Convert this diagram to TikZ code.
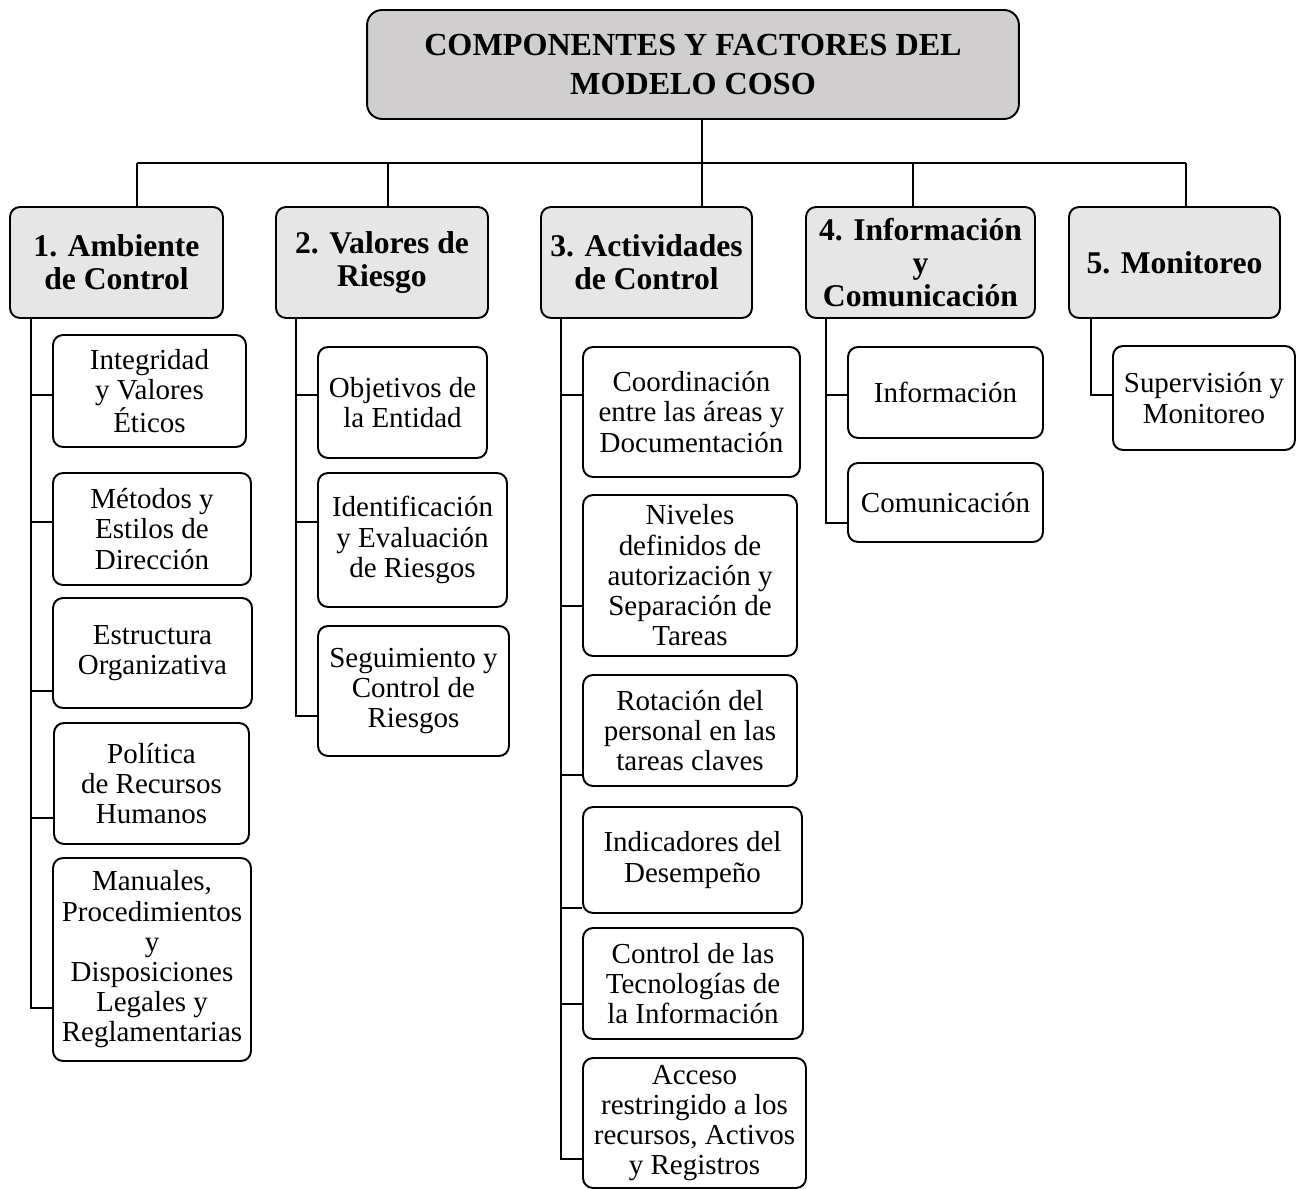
\documentclass[tikz,border=0pt]{standalone}
\usepackage{fontspec}
\setmainfont{Liberation Serif}
\definecolor{cosogris}{RGB}{208,206,206}
\definecolor{cosoclaro}{RGB}{231,230,230}
\tikzset{
  caja/.style={draw, line width=1.1pt, rounded corners=0.2cm, align=center, inner sep=2pt, font=\fontsize{16.5}{17.2}\selectfont},
  cabecera/.style={caja, fill=cosogris, rounded corners=0.3cm, font=\bfseries\fontsize{18.3}{21.8}\selectfont},
  componente/.style={caja, fill=cosoclaro, font=\bfseries\fontsize{18}{18.8}\selectfont},
  rama/.style={line width=1.1pt}
}

\begin{document}
\begin{tikzpicture}[x=0.02cm, y=-0.02cm]
        \useasboundingbox (0,0) rectangle (1303,1189);
        % titulo
        \node[cabecera, minimum width=13.04cm, minimum height=2.18cm] (coso) at (693,64.5) {COMPONENTES Y FACTORES DEL\\MODELO COSO};
        % componentes
        \node[componente, minimum width=4.26cm, minimum height=2.22cm] (c1) at (116.5,262.5) {1. Ambiente\\de Control};
        \node[componente, minimum width=4.24cm, minimum height=2.22cm] (c2) at (382,262.5) {2. Valores de\\Riesgo};
        \node[componente, minimum width=4.22cm, minimum height=2.22cm] (c3) at (646.5,262.5) {3. Actividades\\de Control};
        \node[componente, minimum width=4.58cm, minimum height=2.22cm] (c4) at (920.5,262.5) {4. Información\\y\\Comunicación};
        \node[componente, minimum width=4.22cm, minimum height=2.22cm] (c5) at (1174.5,262.5) {5. Monitoreo};
        % factores
        \node[caja, minimum width=3.86cm, minimum height=2.24cm] (amb1) at (149.5,391) {Integridad\\y Valores\\Éticos};
        \node[caja, minimum width=3.96cm, minimum height=2.24cm] (amb2) at (152,529) {Métodos y\\Estilos de\\Dirección};
        \node[caja, minimum width=3.98cm, minimum height=2.2cm] (amb3) at (152.5,653) {Estructura\\Organizativa};
        \node[caja, minimum width=3.9cm, minimum height=2.42cm] (amb4) at (151.5,783.5) {Política\\de Recursos\\Humanos};
        \node[caja, minimum width=3.96cm, minimum height=4.06cm] (amb5) at (152,959.5) {Manuales,\\Procedimientos\\y\\Disposiciones\\Legales y\\Reglamentarias};
        \node[caja, minimum width=3.38cm, minimum height=2.22cm] (rie1) at (402.5,402.5) {Objetivos de\\la Entidad};
        \node[caja, minimum width=3.78cm, minimum height=2.68cm] (rie2) at (412.5,540) {Identificación\\y Evaluación\\de Riesgos};
        \node[caja, minimum width=3.82cm, minimum height=2.6cm] (rie3) at (413.5,691) {Seguimiento y\\Control de\\Riesgos};
        \node[caja, minimum width=4.34cm, minimum height=2.6cm] (act1) at (691.5,412) {Coordinación\\entre las áreas y\\Documentación};
        \node[caja, minimum width=4.28cm, minimum height=3.22cm] (act2) at (690,575.5) {Niveles\\definidos de\\autorización y\\Separación de\\Tareas};
        \node[caja, minimum width=4.28cm, minimum height=2.22cm] (act3) at (690,730.5) {Rotación del\\personal en las\\tareas claves};
        \node[caja, minimum width=4.38cm, minimum height=2.12cm] (act4) at (692.5,860) {Indicadores del\\Desempeño};
        \node[caja, minimum width=4.4cm, minimum height=2.22cm] (act5) at (693,983.5) {Control de las\\Tecnologías de\\la Información};
        \node[caja, minimum width=4.46cm, minimum height=2.6cm] (act6) at (694.5,1123) {Acceso\\restringido a los\\recursos, Activos\\y Registros};
        \node[caja, minimum width=3.9cm, minimum height=1.82cm] (inf1) at (945.5,392.5) {Información};
        \node[caja, minimum width=3.9cm, minimum height=1.58cm] (inf2) at (945.5,502.5) {Comunicación};
        \node[caja, minimum width=3.64cm, minimum height=2.08cm] (mon1) at (1204,398) {Supervisión y\\Monitoreo};
        % arbol superior
        \draw[rama] ([xshift=0.18cm]coso.south) -- +(0,45);
        \draw[rama] ([xshift=0.41cm,yshift=0.86cm]c1.north) -- ([xshift=0.23cm,yshift=0.86cm]c5.north);
        \draw[rama] ([xshift=0.41cm]c1.north) -- +(0,-43);
        \draw[rama] ([xshift=0.12cm]c2.north) -- +(0,-43);
        \draw[rama] ([xshift=1.11cm]c3.north) -- +(0,-43);
        \draw[rama] ([xshift=-0.15cm]c4.north) -- +(0,-43);
        \draw[rama] ([xshift=0.23cm]c5.north) -- +(0,-43);
        % ramas de cada componente
        \draw[rama] ([xshift=0.44cm]c1.south west) |- ([yshift=-0.97cm]amb5.west);
        \draw[rama] ([yshift=-0.08cm]amb1.west) -- +(-21,0);
        \draw[rama] ([yshift=0.14cm]amb2.west) -- +(-21,0);
        \draw[rama] ([yshift=-0.76cm]amb3.west) -- +(-21,0);
        \draw[rama] ([yshift=-0.69cm]amb4.west) -- +(-21,0);
        \draw[rama] ([xshift=0.42cm]c2.south west) |- ([yshift=-0.5cm]rie3.west);
        \draw[rama] ([yshift=0.15cm]rie1.west) -- +(-21,0);
        \draw[rama] ([yshift=0.36cm]rie2.west) -- +(-21,0);
        \draw[rama] ([xshift=0.42cm]c3.south west) |- ([yshift=-0.72cm]act6.west);
        \draw[rama] ([yshift=0.34cm]act1.west) -- +(-21,0);
        \draw[rama] ([yshift=-0.61cm]act2.west) -- +(-21,0);
        \draw[rama] ([yshift=-0.89cm]act3.west) -- +(-21,0);
        \draw[rama] ([yshift=-0.96cm]act4.west) -- +(-21,0);
        \draw[rama] ([yshift=-0.41cm]act5.west) -- +(-21,0);
        \draw[rama] ([xshift=0.42cm]c4.south west) |- ([yshift=-0.41cm]inf2.west);
        \draw[rama] ([yshift=-0.05cm]inf1.west) -- +(-21,0);
        \draw[rama] ([xshift=0.46cm]c5.south west) |- ([yshift=0.06cm]mon1.west);
      \end{tikzpicture}
\end{document}
